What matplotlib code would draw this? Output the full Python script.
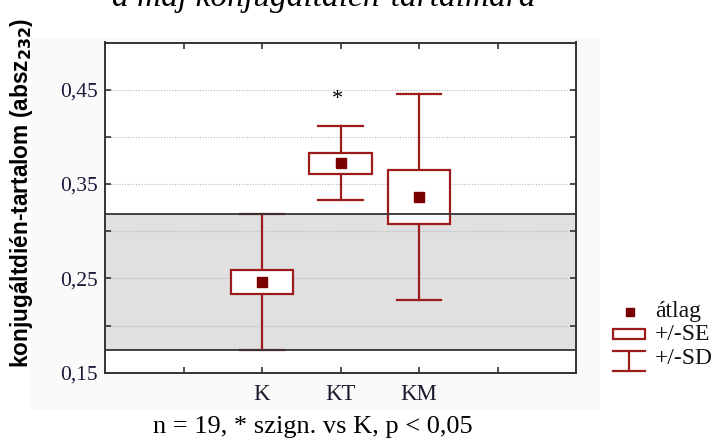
import matplotlib.pyplot as plt
from matplotlib.patches import Rectangle

# group summaries: mean, standard error, standard deviation
groups = ["K", "KT", "KM"]
means = [0.246, 0.372, 0.336]
se = [0.013, 0.0112, 0.0289]
sd = [0.072, 0.0392, 0.1092]
signif = [False, True, False]
star_y = 0.440

yticks = [0.15, 0.25, 0.35, 0.45]
ytick_labels = ["0,15", "0,25", "0,35", "0,45"]

title = "a máj konjugáltdién-tartalmára"
ylabel = "konjugáltdién-tartalom (absz$_{\\mathbf{232}}$)"
note = "n = 19, * szign. vs K, p < 0,05"

RED = "#9E1B1B"
DARK = "#7A0000"
SERIF = "Liberation Serif"

fig = plt.figure(figsize=(7.15, 4.40), dpi=100)
fig.patch.set_facecolor("white")

# faint panel behind the plot
fig.add_artist(Rectangle((31 / 715, 1 - 410 / 440), (600 - 31) / 715, (410 - 38) / 440,
                         transform=fig.transFigure, facecolor="#FAFAFA",
                         edgecolor="none", zorder=-5))

ax = fig.add_axes([105 / 715, 1 - 372.7 / 440, (576 - 105) / 715, (372.7 - 42.5) / 440])
ax.set_xlim(0, 6)
ax.set_ylim(0.15, 0.50)

xs = [2, 3, 4]

# reference band: control mean +/- SD
lo, hi = means[0] - sd[0], means[0] + sd[0]
ax.axhspan(lo, hi, facecolor="#E0E0E0", edgecolor="none", zorder=0)
ax.axhline(lo, color="#333333", lw=1.3, zorder=6)
ax.axhline(hi, color="#333333", lw=1.3, zorder=6)

for y in [0.20, 0.25, 0.30, 0.35, 0.40, 0.45]:
    ax.axhline(y, color="#B5B5B5", lw=0.8, ls=(0, (1, 1.5)), zorder=1)

box_w = 0.8
cap_w = 0.57
for x, m, s, d in zip(xs, means, se, sd):
    ax.plot([x, x], [m - d, m + d], color=RED, lw=1.6, zorder=3)
    ax.plot([x - cap_w / 2, x + cap_w / 2], [m + d, m + d], color=RED, lw=1.6, zorder=3)
    ax.plot([x - cap_w / 2, x + cap_w / 2], [m - d, m - d], color=RED, lw=1.6, zorder=3)
    ax.add_patch(Rectangle((x - box_w / 2, m - s), box_w, 2 * s, facecolor="white",
                           edgecolor=RED, lw=1.6, zorder=4))
    ax.plot([x], [m], marker="s", ms=6.5, color=DARK, ls="none", zorder=5)

for x, sig in zip(xs, signif):
    if sig:
        ax.text(x - 0.04, star_y, "*", ha="center", va="center", fontsize=16,
                family=SERIF, color="black", zorder=5)

ax.set_xticks(range(1, 6))
ax.set_xticklabels(["", "K", "KT", "KM", ""], family=SERIF, fontsize=16.5, color="#1A1A2E")
ax.set_yticks(yticks)
ax.set_yticklabels(ytick_labels, family=SERIF, fontsize=15.5, color="#1A1A3A")
ax.set_yticks([0.20, 0.30, 0.40], minor=True)
ax.tick_params(axis="both", which="both", direction="in", length=4, width=1.2,
               top=True, right=True, color="#333333")
ax.tick_params(axis="x", pad=8)
ax.tick_params(axis="y", pad=5)
for sp in ax.spines.values():
    sp.set_linewidth(1.4)
    sp.set_color("#333333")
ax.set_facecolor("white")

fig.text(22 / 715, 1 - 193 / 440, ylabel, rotation=90, ha="center", va="center",
         family="Liberation Sans", fontweight="bold", fontsize=16.3, color="black")

fig.text(112 / 715, 1 - 6 / 440, title, ha="left", va="baseline", family=SERIF,
         style="italic", fontsize=24, color="black")

fig.text(313 / 715, 1 - 427 / 440, note, ha="center", va="center", family=SERIF,
         fontsize=19, color="black")

# legend drawn in pixel units
lg = fig.add_axes([600 / 715, 1 - 378 / 440, 115 / 715, 80 / 440])
lg.set_xlim(600, 715)
lg.set_ylim(378, 298)
lg.axis("off")
lg.plot([630], [312], marker="s", ms=6, color=DARK, ls="none")
lg.add_patch(Rectangle((613, 329), 32, 10, facecolor="white", edgecolor=RED, lw=1.6))
lg.plot([613, 645], [351, 351], color=RED, lw=1.6)
lg.plot([613, 645], [371, 371], color=RED, lw=1.6)
lg.plot([629, 629], [351, 371], color=RED, lw=1.6)
for ty, txt in zip([311, 334, 358], ["átlag", "+/-SE", "+/-SD"]):
    lg.text(655, ty, txt, ha="left", va="center", family=SERIF, fontsize=17, color="#111111")

fig.savefig("out.png", dpi=100)
